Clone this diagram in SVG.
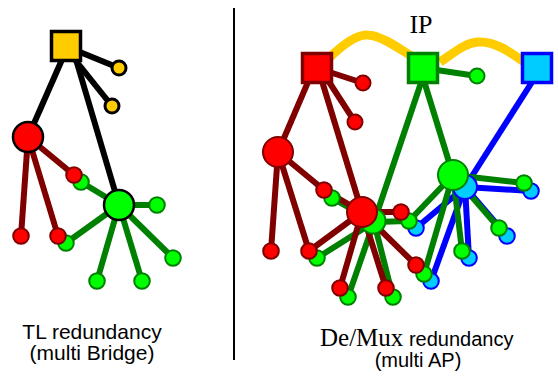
<svg xmlns="http://www.w3.org/2000/svg" width="558" height="377" viewBox="0 0 558 377">
<style>
.lk{stroke:#000;stroke-width:6;fill:none}
.lr{stroke:#800000;stroke-width:6;fill:none}
.lg{stroke:#008000;stroke-width:6;fill:none}
.lb{stroke:#0000FF;stroke-width:6;fill:none}
.ip{stroke:#FFCC00;stroke-width:9;fill:none}
.nr{fill:#FF0000;stroke:#800000;stroke-width:2}
.ng{fill:#00FF00;stroke:#008000;stroke-width:2}
.nc{fill:#00CCFF;stroke:#0000FF;stroke-width:2}
.ny{fill:#FFCC00;stroke:#000;stroke-width:3}
.bk{stroke:#000;stroke-width:2.5}
.sans{font-family:"Liberation Sans",Arial,sans-serif;fill:#000}
.serif{font-family:"Liberation Serif","Times New Roman",serif;fill:#000}
</style>
<line x1="234" y1="8" x2="234" y2="360" stroke="#000" stroke-width="2"/>
<g id="connectors">
  <line class="lk" x1="68" y1="46" x2="28" y2="137"/>
  <line class="lk" x1="72" y1="46" x2="119" y2="205"/>
  <line class="lk" x1="70" y1="48" x2="119" y2="68"/>
  <line class="lk" x1="64" y1="46" x2="112" y2="106"/>
  <line class="lg" x1="119" y1="205" x2="81" y2="182"/>
  <line class="lg" x1="119" y1="205" x2="157" y2="205"/>
  <line class="lg" x1="119" y1="205" x2="66" y2="243"/>
  <line class="lg" x1="119" y1="205" x2="173" y2="258"/>
  <line class="lg" x1="119" y1="205" x2="97" y2="281"/>
  <line class="lg" x1="119" y1="205" x2="142" y2="281"/>
  <line class="lr" x1="28" y1="137" x2="74" y2="175"/>
  <line class="lr" x1="28" y1="137" x2="21" y2="236"/>
  <line class="lr" x1="28" y1="137" x2="58" y2="236"/>
  <path class="ip" d="M327,60 C345,42 358,34 368,35 C382,36 398,48 413,57"/>
  <path class="ip" d="M440,62 C455,52 465,43 478,42 C495,41 510,52 524,62"/>
  <line class="lb" x1="541" y1="68" x2="465" y2="187"/>
  <line class="lb" x1="465" y1="187" x2="531" y2="191"/>
  <line class="lb" x1="465" y1="187" x2="507" y2="236"/>
  <line class="lb" x1="465" y1="187" x2="469" y2="258"/>
  <line class="lb" x1="465" y1="187" x2="431" y2="281"/>
  <line class="lb" x1="465" y1="187" x2="416" y2="228"/>
  <line class="lg" x1="423" y1="68" x2="477" y2="76"/>
  <line class="lg" x1="420" y1="68" x2="453" y2="175"/>
  <line class="lg" x1="426" y1="68" x2="374" y2="222"/>
  <line class="lg" x1="453" y1="175" x2="524" y2="183"/>
  <line class="lg" x1="453" y1="175" x2="499" y2="228"/>
  <line class="lg" x1="453" y1="175" x2="462" y2="251"/>
  <line class="lg" x1="453" y1="175" x2="424" y2="274"/>
  <line class="lg" x1="453" y1="175" x2="409" y2="221"/>
  <line class="lg" x1="374" y1="222" x2="332" y2="198"/>
  <line class="lg" x1="374" y1="222" x2="317" y2="258"/>
  <line class="lg" x1="374" y1="222" x2="348" y2="297"/>
  <line class="lg" x1="374" y1="222" x2="393" y2="297"/>
  <line class="lg" x1="374" y1="222" x2="409" y2="221"/>
  <line class="lr" x1="317" y1="68" x2="363" y2="83"/>
  <line class="lr" x1="320" y1="68" x2="355" y2="122"/>
  <line class="lr" x1="314" y1="68" x2="278" y2="152"/>
  <line class="lr" x1="318" y1="68" x2="362" y2="212"/>
  <line class="lr" x1="278" y1="152" x2="324" y2="190"/>
  <line class="lr" x1="278" y1="152" x2="271" y2="251"/>
  <line class="lr" x1="278" y1="152" x2="309" y2="251"/>
  <line class="lr" x1="362" y1="212" x2="324" y2="190"/>
  <line class="lr" x1="362" y1="212" x2="401" y2="212"/>
  <line class="lr" x1="362" y1="212" x2="309" y2="251"/>
  <line class="lr" x1="362" y1="212" x2="340" y2="288"/>
  <line class="lr" x1="362" y1="212" x2="386" y2="288"/>
  <line class="lr" x1="362" y1="212" x2="416" y2="265"/>
</g>
<g id="L-y1"><circle class="ny" cx="119" cy="68" r="7"/></g>
<g id="L-y2"><circle class="ny" cx="112" cy="106" r="7"/></g>
<g id="L-g1"><circle class="ng" cx="81" cy="182" r="7.8" stroke-width="1.5"/></g>
<g id="L-g2"><circle class="ng" cx="157" cy="205" r="7.8" stroke-width="1.5"/></g>
<g id="L-g3"><circle class="ng" cx="66" cy="243" r="7.8" stroke-width="1.5"/></g>
<g id="L-g4"><circle class="ng" cx="173" cy="258" r="7.8" stroke-width="1.5"/></g>
<g id="L-g5"><circle class="ng" cx="97" cy="281" r="7.8" stroke-width="1.5"/></g>
<g id="L-g6"><circle class="ng" cx="142" cy="281" r="7.8" stroke-width="1.5"/></g>
<g id="L-r1"><circle class="nr" cx="74" cy="175" r="7.8" stroke-width="1.5"/></g>
<g id="L-r2"><circle class="nr" cx="21" cy="236" r="7.8" stroke-width="1.5"/></g>
<g id="L-r3"><circle class="nr" cx="58" cy="236" r="7.8" stroke-width="1.5"/></g>
<g id="L-red-bridge"><circle cx="28" cy="137" r="15" fill="#FF0000" class="bk"/></g>
<g id="L-green-bridge"><circle cx="119" cy="205" r="15" fill="#00FF00" class="bk"/></g>
<g id="L-root"><rect x="51.5" y="31.5" width="29" height="29" fill="#FFCC00" stroke="#000" stroke-width="3.5"/></g>
<g id="R-c1"><circle class="nc" cx="531" cy="191" r="7.8"/></g>
<g id="R-c2"><circle class="nc" cx="507" cy="236" r="7.8"/></g>
<g id="R-c3"><circle class="nc" cx="469" cy="258" r="7.8"/></g>
<g id="R-c4"><circle class="nc" cx="431" cy="281" r="7.8"/></g>
<g id="R-c5"><circle class="nc" cx="416" cy="228" r="7.8"/></g>
<g id="R-cyan-ap"><circle class="nc" cx="465" cy="187" r="12"/></g>
<g id="R-g0"><circle class="ng" cx="477" cy="76" r="7.5" stroke-width="3"/></g>
<g id="R-g1"><circle class="ng" cx="524" cy="183" r="7.8"/></g>
<g id="R-g2"><circle class="ng" cx="499" cy="228" r="7.8"/></g>
<g id="R-g3"><circle class="ng" cx="462" cy="251" r="7.8"/></g>
<g id="R-g4"><circle class="ng" cx="424" cy="274" r="7.8"/></g>
<g id="R-g5"><circle class="ng" cx="409" cy="221" r="7.8"/></g>
<g id="R-g6"><circle class="ng" cx="332" cy="198" r="7.8"/></g>
<g id="R-g7"><circle class="ng" cx="317" cy="258" r="7.8"/></g>
<g id="R-g8"><circle class="ng" cx="348" cy="297" r="7.8"/></g>
<g id="R-g9"><circle class="ng" cx="393" cy="297" r="7.8"/></g>
<g id="R-green-copy"><circle class="ng" cx="373" cy="221" r="12.5"/></g>
<g id="R-green-ap"><circle class="ng" cx="453" cy="175" r="15"/></g>
<g id="R-r0a"><circle class="nr" cx="363" cy="83" r="7.5" stroke-width="3"/></g>
<g id="R-r0b"><circle class="nr" cx="355" cy="122" r="7.5" stroke-width="3"/></g>
<g id="R-r1"><circle class="nr" cx="324" cy="190" r="7.8"/></g>
<g id="R-r2"><circle class="nr" cx="401" cy="212" r="7.8"/></g>
<g id="R-r3"><circle class="nr" cx="271" cy="251" r="7.8"/></g>
<g id="R-r4"><circle class="nr" cx="309" cy="251" r="7.8"/></g>
<g id="R-r5"><circle class="nr" cx="340" cy="288" r="7.8"/></g>
<g id="R-r6"><circle class="nr" cx="386" cy="288" r="7.8"/></g>
<g id="R-r7"><circle class="nr" cx="416" cy="265" r="7.8"/></g>
<g id="R-red-ap1"><circle class="nr" cx="278" cy="152" r="15"/></g>
<g id="R-red-ap2"><circle class="nr" cx="362" cy="212" r="15"/></g>
<g id="R-sq-red"><rect x="302.5" y="53.5" width="29" height="29" fill="#FF0000" stroke="#800000" stroke-width="3.5"/></g>
<g id="R-sq-green"><rect x="408.5" y="53.5" width="29" height="29" fill="#00FF00" stroke="#008000" stroke-width="3.5"/></g>
<g id="R-sq-blue"><rect x="522.5" y="53.5" width="29" height="29" fill="#00CCFF" stroke="#0000FF" stroke-width="3.5"/></g>
<text class="serif" x="421" y="33" font-size="26" text-anchor="middle">IP</text>
<text class="sans" x="92" y="339" font-size="21" text-anchor="middle">TL redundancy</text>
<text class="sans" x="92" y="360" font-size="21" text-anchor="middle">(multi Bridge)</text>
<text x="320" y="346"><tspan class="serif" font-size="25">De/Mux</tspan><tspan class="sans" font-size="20"> redundancy</tspan></text>
<text class="sans" x="418" y="367" font-size="20" text-anchor="middle">(multi AP)</text>
</svg>
